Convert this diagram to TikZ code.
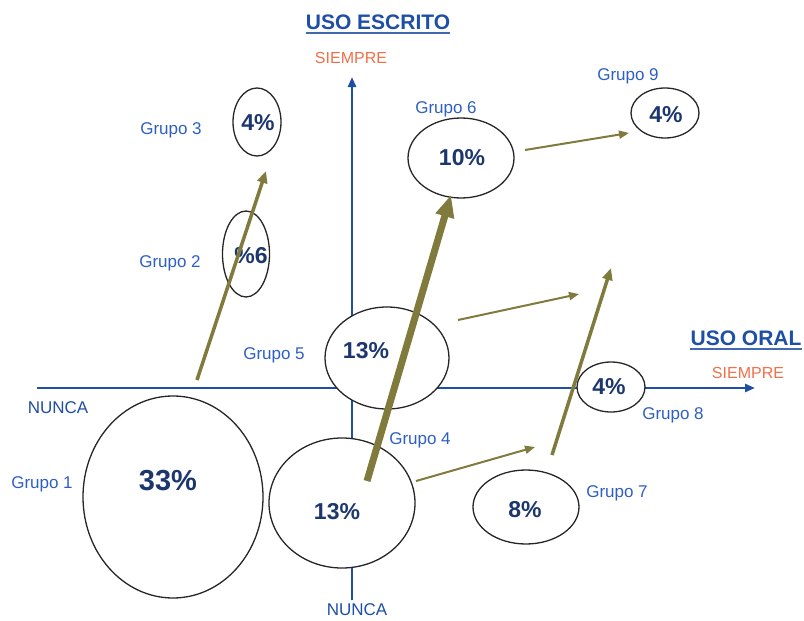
\documentclass[tikz,border=0pt]{standalone}
\usepackage{fontspec}
\setmainfont{Liberation Sans}
\usetikzlibrary{arrows.meta,shapes.geometric}
\definecolor{ejeazul}{RGB}{30,78,165}
\definecolor{textoazul}{RGB}{45,95,195}
\definecolor{cifraazul}{RGB}{28,55,110}
\definecolor{naranja}{RGB}{240,112,72}
\definecolor{oliva}{RGB}{128,122,60}
\tikzset{
	eje/.style={draw=ejeazul, line width=2.8pt, -{Triangle[length=10pt,width=8pt]}},
	grupo/.style={ellipse, draw=black!85, line width=1.3pt, fill=white, inner sep=0pt},
	cifra/.style={text=cifraazul, font=\bfseries\fontsize{23}{23}\selectfont, text depth=0pt},
	etiqueta/.style={text=textoazul, font=\fontsize{17}{17}\selectfont, text depth=0pt},
	nunca/.style={text=ejeazul, font=\fontsize{17}{17}\selectfont, text depth=0pt},
	siempre/.style={text=naranja, font=\fontsize{16}{16}\selectfont, text depth=0pt},
	titulo/.style={text=ejeazul, font=\bfseries\fontsize{21}{21}\selectfont, text depth=0pt, inner xsep=0pt, inner ysep=3.5pt},
	flecha/.style={draw=oliva, line width=2pt, -{Triangle[length=10pt,width=8pt]}},
	flechamedia/.style={draw=oliva, line width=3.5pt, -{Triangle[length=12pt,width=10pt]}},
	flechagruesa/.style={draw=oliva, line width=7pt, -{Triangle[length=22pt,width=18pt]}}
}
\begin{document}
\begin{tikzpicture}[x=1pt,y=-1pt]
	\useasboundingbox (0,0) rectangle (804,621);
	% ejes
	\coordinate (oeste) at (37,388);
	\coordinate (este) at (755,388);
	\coordinate (sur) at (352,600);
	\coordinate (norte) at (352,77);
	\draw[eje] (oeste) -- (este);
	\draw[eje] (sur) -- (norte);
	\node[titulo] (escrito) at (378,22) {USO ESCRITO};
	\draw[ejeazul!85, line width=1.5pt] (escrito.south west) -- (escrito.south east);
	\node[titulo] (oral) at (746,338) {USO ORAL};
	\draw[ejeazul!85, line width=1.5pt] (oral.south west) -- (oral.south east);
	\node[siempre] (siempreE) at (351,58) {SIEMPRE};
	\node[siempre] (siempreO) at (748,373) {SIEMPRE};
	\node[nunca] (nuncaO) at (58,408) {NUNCA};
	\node[nunca] (nuncaS) at (357,610) {NUNCA};
	% grupos
	\node[grupo, minimum width=180, minimum height=202] (g1) at (173,497) {};
	\node[grupo, minimum width=47, minimum height=86] (g2) at (246,254) {};
	\node[grupo, minimum width=48, minimum height=68] (g3) at (257,122) {};
	\node[grupo, minimum width=146, minimum height=130] (g4) at (342,503) {};
	\node[grupo, minimum width=124, minimum height=102] (g5) at (387,358) {};
	\node[grupo, minimum width=106, minimum height=80] (g6) at (461,158) {};
	\node[grupo, minimum width=106, minimum height=74] (g7) at (526,507) {};
	\node[grupo, minimum width=68, minimum height=50] (g8) at (611,387) {};
	\node[grupo, minimum width=68, minimum height=50] (g9) at (665,113) {};
	\node[cifra, font=\bfseries\fontsize{29}{29}\selectfont] (p1) at (168,480) {33\%};
	\node[cifra] (p2) at (251,255) {\%6};
	\node[cifra] (p3) at (258,122) {4\%};
	\node[cifra] (p4) at (337,511) {13\%};
	\node[cifra] (p5) at (366,350) {13\%};
	\node[cifra] (p6) at (462,157) {10\%};
	\node[cifra] (p7) at (525,509) {8\%};
	\node[cifra] (p8) at (609,386) {4\%};
	\node[cifra] (p9) at (666,114) {4\%};
	\node[etiqueta] (l1) at (42,483) {Grupo 1};
	\node[etiqueta] (l2) at (170,262) {Grupo 2};
	\node[etiqueta] (l3) at (171,129) {Grupo 3};
	\node[etiqueta] (l4) at (420,439) {Grupo 4};
	\node[etiqueta] (l5) at (274,354) {Grupo 5};
	\node[etiqueta] (l6) at (446,108) {Grupo 6};
	\node[etiqueta] (l7) at (617,492) {Grupo 7};
	\node[etiqueta] (l8) at (673,414) {Grupo 8};
	\node[etiqueta] (l9) at (628,75) {Grupo 9};
	% flechas
	\coordinate (a1) at (197,380);
	\coordinate (b1) at (266,171);
	\coordinate (a2) at (367,481);
	\coordinate (b2) at (451,195);
	\coordinate (a3) at (458,320);
	\coordinate (b3) at (579,294);
	\coordinate (a4) at (525,150);
	\coordinate (b4) at (629,133);
	\coordinate (a5) at (416,481);
	\coordinate (b5) at (535,447);
	\coordinate (a6) at (552,455);
	\coordinate (b6) at (611,268);
	\draw[flechamedia] (a1) -- (b1);
	\draw[flechagruesa] (a2) -- (b2);
	\draw[flecha] (a3) -- (b3);
	\draw[flecha] (a4) -- (b4);
	\draw[flecha] (a5) -- (b5);
	\draw[flechamedia] (a6) -- (b6);
\end{tikzpicture}
\end{document}
